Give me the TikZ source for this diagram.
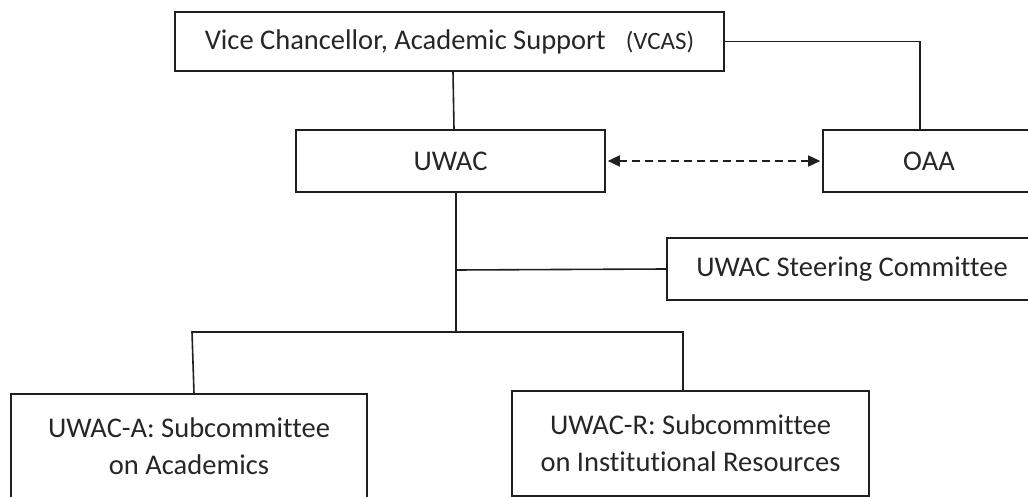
\documentclass[tikz,border=0pt]{standalone}
\usepackage{fontspec}
\setmainfont{Carlito}[Ligatures={NoCommon,NoContextual}]
\usetikzlibrary{arrows.meta}
\begin{document}
\begin{tikzpicture}[x=1pt,y=-1pt,
  box/.style={draw=black!88, line width=1.6pt, rectangle, inner sep=0pt,
    align=center, text=black!85, font=\fontsize{28.5}{37}\selectfont},
  conn/.style={draw=black!88, line width=1.6pt},
  dconn/.style={conn, dash pattern=on 8pt off 5pt,
    {Triangle[length=12pt,width=11pt]}-{Triangle[length=12pt,width=11pt]}}
]
\useasboundingbox (0,0) rectangle (1028,497);
\clip (0,0) rectangle (1028,497);
\node[box, minimum width=549pt, minimum height=59pt] (vc) at (449.5,41.5)
  {Vice Chancellor, Academic Support\hspace{20pt}{\fontsize{25}{30}\selectfont(VCAS)}};
\node[box, minimum width=309pt, minimum height=62pt] (uwac) at (450.5,161) {UWAC};
\node[box, minimum width=212pt, minimum height=62pt] (oaa) at (929,161) {OAA};
\node[box, minimum width=370pt, minimum height=62pt] (steer) at (852,269) {UWAC Steering Committee};
\node[box, minimum width=356pt, minimum height=104pt] (ua) at (189,446)
  {UWAC-A: Subcommittee\\on Academics};
\node[box, minimum width=357pt, minimum height=105pt] (ur) at (690.5,443.5)
  {UWAC-R: Subcommittee\\on Institutional Resources};
\coordinate (j1) at (456,270);
\coordinate (j2) at (456,332);
\coordinate (la) at (192,332);
\coordinate (ra) at (683,332);
\draw[conn] ([xshift=3.5pt]vc.south) -- ([xshift=3.5pt]uwac.north);
\draw[conn] (vc.east) -| ([xshift=-9pt]oaa.north);
\draw[dconn] ([xshift=2pt]uwac.east) -- ([xshift=-2pt]oaa.west);
\draw[conn] ([xshift=5.5pt]uwac.south) -- (j2);
\draw[conn] (j1) -- (steer.west);
\draw[conn] ([xshift=5pt]ua.north) -- (la) -- (ra) -- ([xshift=-7.5pt]ur.north);
\end{tikzpicture}
\end{document}
